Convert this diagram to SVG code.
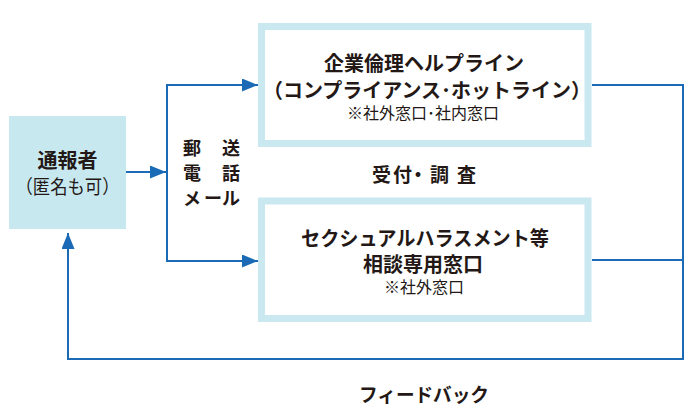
<svg xmlns="http://www.w3.org/2000/svg" width="697" height="419" viewBox="0 0 697 419">
<style>
.t{font-family:"Noto Sans CJK JP","Noto Sans",sans-serif;fill:#231815;text-anchor:middle}
.b{font-weight:bold}
.s{text-anchor:start}
.frame{fill:#fff;stroke:#c9e8f0;stroke-width:7}
.ln{fill:none;stroke:#1a6ab5;stroke-width:2}
</style>
<defs>
<marker id="ah" markerUnits="userSpaceOnUse" markerWidth="16" markerHeight="13" refX="16" refY="6.5" orient="auto">
<path d="M0,0 L16,6.5 L0,13 Z" fill="#1a6ab5"/>
</marker>
</defs>
<rect width="697" height="419" fill="#fff"/>
<g id="connectors">
<line class="ln" x1="126" y1="172" x2="166" y2="172" marker-end="url(#ah)"/>
<line class="ln" x1="167" y1="84" x2="167" y2="262"/>
<line class="ln" x1="166" y1="85" x2="258" y2="85" marker-end="url(#ah)"/>
<line class="ln" x1="166" y1="261" x2="258" y2="261" marker-end="url(#ah)"/>
<polyline class="ln" points="592,85 683,85 683,359 68,359 68,233" marker-end="url(#ah)"/>
<line class="ln" x1="592" y1="260" x2="683" y2="260"/>
</g>
<g id="reporter">
<rect x="9" y="116" width="117" height="113" fill="#c8e8f0"/>
<text class="t b" x="67.5" y="168" font-size="20">通報者</text>
<text class="t" x="67.5" y="194" font-size="19" textLength="104" lengthAdjust="spacingAndGlyphs">（匿名も可）</text>
</g>
<g id="channels">
<text class="t b s" font-size="18" x="183 222" y="155">郵送</text>
<text class="t b s" font-size="18" x="183 222" y="180">電話</text>
<text class="t b s" font-size="18" x="183 204 222" y="205">メール</text>
</g>
<g id="helpline">
<rect class="frame" x="261.5" y="26.5" width="326.5" height="117"/>
<text class="t b" x="424" y="71" font-size="20">企業倫理ヘルプライン</text>
<text class="t b" x="427" y="98" font-size="20">（コンプライアンス･ホットライン）</text>
<text class="t" x="423" y="119" font-size="16">※社外窓口･社内窓口</text>
</g>
<g id="harassment">
<rect class="frame" x="261.5" y="201" width="326.5" height="117.5"/>
<text class="t b" x="425" y="246" font-size="20" textLength="248" lengthAdjust="spacingAndGlyphs">セクシュアルハラスメント等</text>
<text class="t b" x="423" y="272" font-size="20">相談専用窓口</text>
<text class="t" x="424" y="293" font-size="16">※社外窓口</text>
</g>
<g id="label-receive">
<text class="t b s" font-size="19" x="372 393 408.5 430 457" y="182">受付・調査</text>
</g>
<g id="label-feedback">
<text class="t b" x="424" y="402" font-size="19" textLength="130" lengthAdjust="spacingAndGlyphs">フィードバック</text>
</g>
</svg>
